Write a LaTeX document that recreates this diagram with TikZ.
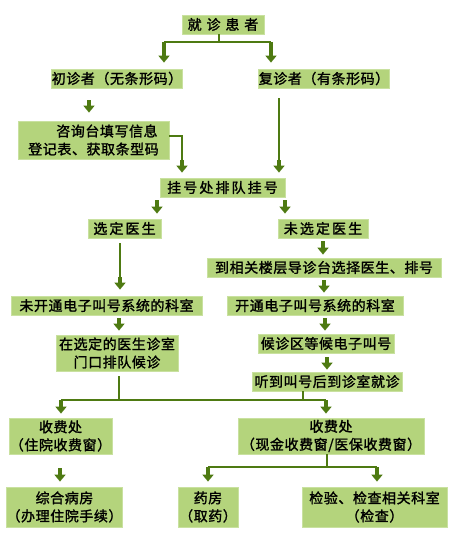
\documentclass[tikz,border=0pt]{standalone}
\usepackage{fontspec}
\newfontfamily\cjk{Noto Sans CJK SC}[LetterSpace=4, AutoFakeBold=1.5]
\newfontfamily\cjkwide{Noto Sans CJK SC}[LetterSpace=15, AutoFakeBold=1.5]
\newfontfamily\cjkwider{Noto Sans CJK SC}[LetterSpace=35, AutoFakeBold=1.5]
\usetikzlibrary{arrows.meta}
\definecolor{boxgreen}{HTML}{B4D47C}
\definecolor{boxedge}{HTML}{C9E1A0}
\definecolor{linegreen}{HTML}{4E7A12}
\tikzset{
  stepbox/.style={rectangle, draw=boxedge, line width=0.8pt, fill=boxgreen, inner sep=0pt, text centered, align=center, font=\cjk\bfseries\fontsize{14}{18}\selectfont},
  link/.style={draw=linegreen, line width=1.6pt},
  fat/.style={draw=linegreen, line width=4pt, -{Triangle[width=11pt,length=7pt]}}
}
\begin{document}
\begin{tikzpicture}[x=1pt, y=-1pt]
    \useasboundingbox (0,0) rectangle (456,539);

    \node (patient) [stepbox, minimum width=82, minimum height=19] at (223,24.5) {\cjkwider\bfseries 就诊患者};
    \node (first) [stepbox, minimum width=126, minimum height=19] at (117,78.5) {初诊者（无条形码）};
    \node (return) [stepbox, minimum width=126, minimum height=19] at (324,78.5) {复诊者（有条形码）};
    \node (consult) [stepbox, align=left, minimum width=151, minimum height=38] at (93.5,140)
    {\hspace*{28pt}咨询台填写信息\\登记表、获取条型码};
    \node (register) [stepbox, minimum width=125, minimum height=19] at (222.5,187.5) {\cjkwide\bfseries 挂号处排队挂号};
    \node (chosen) [stepbox, minimum width=73, minimum height=19] at (124.5,228.5) {\cjkwide\bfseries 选定医生};
    \node (notchosen) [stepbox, minimum width=90, minimum height=19] at (323,228.5) {\cjkwide\bfseries 未选定医生};
    \node (guide) [stepbox, minimum width=234, minimum height=19] at (324,267.5) {到相关楼层导诊台选择医生、排号};
    \node (noecall) [stepbox, minimum width=191, minimum height=19] at (106.5,305.5) {未开通电子叫号系统的科室};
    \node (ecall) [stepbox, minimum width=176, minimum height=19] at (315,305.5) {开通电子叫号系统的科室};
    \node (queue) [stepbox, minimum width=122, minimum height=36] at (117,353) {在选定的医生诊室\\门口排队候诊};
    \node (wait) [stepbox, minimum width=136, minimum height=19] at (326,343.5) {候诊区等候电子叫号};
    \node (hear) [stepbox, minimum width=150, minimum height=19] at (327,381.5) {听到叫号后到诊室就诊};
    \node (payin) [stepbox, minimum width=103, minimum height=36] at (60.5,436) {收费处\\（住院收费窗）};
    \node (payout) [stepbox, minimum width=186, minimum height=36] at (331,436) {收费处\\（现金收费窗/医保收费窗）};
    \node (ward) [stepbox, minimum width=115, minimum height=40] at (64.5,507) {综合病房\\（办理住院手续）};
    \node (pharm) [stepbox, minimum width=60, minimum height=40] at (208,507) {药房\\（取药）};
    \node (lab) [stepbox, minimum width=145, minimum height=40] at (374.5,507) {检验、检查相关科室\\（检查）};

    % Flechas
    \coordinate (s1) at (219,42);
    \coordinate (s1l) at (164,42);
    \coordinate (s1r) at (271,42);
    \draw [link] (s1 |- patient.south) -- (s1);
    \draw [link] (s1l) -- (s1r);
    \draw [fat, shorten >=6pt] (s1l) -- (s1l |- first.north);
    \draw [fat, shorten >=6pt] (s1r) -- (s1r |- return.north);

    \coordinate (a1) at (89,100);
    \draw [fat, shorten >=8pt] (a1) -- (a1 |- consult.north);

    \coordinate (c1) at (182,160);
    \draw [link] ([yshift=4pt]consult.east) -| (c1);
    \draw [fat, shorten >=5pt] (c1) -- (c1 |- register.north);
    \coordinate (c2) at (279,160);
    \draw [link, shorten <=10pt] (c2 |- return.south) -- (c2);
    \draw [fat, shorten >=5pt] (c2) -- (c2 |- register.north);

    \coordinate (e1) at (157,200);
    \coordinate (e2) at (285,200);
    \draw [fat, shorten >=5pt] (e1) -- (e1 |- chosen.north);
    \draw [fat, shorten >=5pt] (e2) -- (e2 |- notchosen.north);

    \coordinate (f1) at (120,277);
    \draw [link, shorten <=5pt] (f1 |- chosen.south) -- (f1);
    \draw [fat, shorten >=6pt] (f1) -- (f1 |- noecall.north);

    \coordinate (g1) at (323,241);
    \draw [fat, shorten >=3pt] (g1) -- (g1 |- guide.north);
    \coordinate (h1) at (324,280);
    \draw [fat, shorten >=3pt] (h1) -- (h1 |- ecall.north);
    \coordinate (i1) at (119,318);
    \draw [fat, shorten >=4pt] (i1) -- (i1 |- queue.north);
    \coordinate (j1) at (325,318);
    \draw [fat, shorten >=3pt] (j1) -- (j1 |- wait.north);
    \coordinate (k1) at (327,357);
    \draw [fat, shorten >=2pt] (k1) -- (k1 |- hear.north);

    % Union hacia caja
    \coordinate (m1) at (119,400);
    \coordinate (m2) at (303,400);
    \coordinate (ml) at (61,400);
    \coordinate (mr) at (326,400);
    \draw [link, shorten <=5pt] (m1 |- queue.south) -- (m1);
    \draw [link] (m2 |- hear.south) -- (m2);
    \draw [link] (ml) -- (mr);
    \draw [fat, shorten >=4pt] (ml) -- (ml |- payin.north);
    \draw [fat, shorten >=4pt] (mr) -- (mr |- payout.north);

    \coordinate (w1) at (60,468);
    \draw [fat, shorten >=5pt] (w1) -- (w1 |- ward.north);

    \coordinate (n1) at (327,467);
    \coordinate (n1l) at (208,467);
    \coordinate (n1r) at (377,467);
    \draw [link] (n1 |- payout.south) -- (n1);
    \draw [link] (n1l) -- (n1r);
    \draw [fat, shorten >=5pt] (n1l) -- (n1l |- pharm.north);
    \draw [fat, shorten >=5pt] (n1r) -- (n1r |- lab.north);

\end{tikzpicture}
\end{document}
